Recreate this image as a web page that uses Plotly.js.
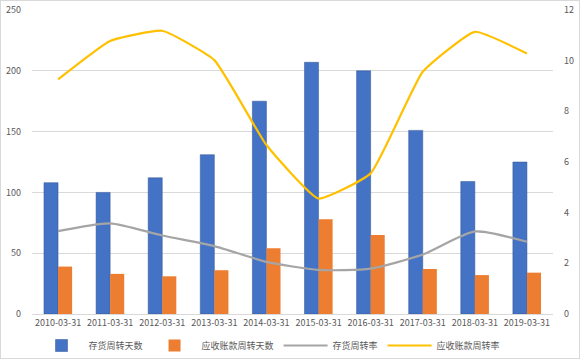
<!DOCTYPE html>
<html><head><meta charset="utf-8">
<script src="https://cdn.plot.ly/plotly-3.0.1.min.js"></script>
<style>html,body{margin:0;padding:0;background:#fff;}#chart{width:580px;height:359px;box-sizing:border-box;border:1px solid #d9d9d9;}</style>
</head><body><div id="chart"></div>
<script>
const categories = ["2010-03-31","2011-03-31","2012-03-31","2013-03-31","2014-03-31","2015-03-31","2016-03-31","2017-03-31","2018-03-31","2019-03-31"];
const inventoryDays = [108, 100, 112, 131, 175, 207, 200, 151, 109, 125];
const receivableDays = [39, 33, 31, 36, 54, 78, 65, 37, 32, 34];
const inventoryTurnover = [3.27, 3.58, 3.1, 2.68, 2.06, 1.74, 1.79, 2.35, 3.26, 2.85];
const receivableTurnover = [9.26, 10.78, 11.18, 10.02, 6.67, 4.56, 5.55, 9.56, 11.14, 10.28];
const names = ["存货周转天数", "应收账款周转天数", "存货周转率", "应收账款周转率"];

const font = {family: "'Noto Sans CJK SC', 'Noto Sans', sans-serif", size: 9, color: "#595959"};
const data = [
  {type: "bar", name: names[0], x: categories, y: inventoryDays, marker: {color: "#4472c4", line: {color: "#2f5597", width: 0.5}}},
  {type: "bar", name: names[1], x: categories, y: receivableDays, marker: {color: "#ed7d31"}},
  {type: "scatter", mode: "lines", name: names[2], x: categories, y: inventoryTurnover, yaxis: "y2", line: {color: "#a5a5a5", width: 2.2, shape: "spline", smoothing: 0.6}},
  {type: "scatter", mode: "lines", name: names[3], x: categories, y: receivableTurnover, yaxis: "y2", line: {color: "#ffc000", width: 2.2, shape: "spline", smoothing: 0.4}}
];
const layout = {
  width: 578, height: 357,
  margin: {l: 31, r: 26, t: 9, b: 44},
  paper_bgcolor: "#fff", plot_bgcolor: "#fff",
  font: font,
  barmode: "group", bargap: 0.46, bargroupgap: 0,
  showlegend: true,
  legend: {orientation: "h", xref: "container", yref: "container", x: 0.058, xanchor: "left", y: 0.035, yanchor: "middle", font: {family: font.family, size: 9, color: "#595959"}, itemwidth: 44, tracegroupgap: 0},
  xaxis: {type: "category", showgrid: false, zeroline: false, showline: false, ticks: "", tickfont: {size: 9, color: "#595959"}, ticklabelstandoff: 2},
  yaxis: {range: [0, 250], dtick: 50, showgrid: true, gridcolor: "#d9d9d9", gridwidth: 1, zeroline: true, zerolinecolor: "#d9d9d9", showline: false, ticks: "", tickfont: {size: 9, color: "#595959"}, ticklabelstandoff: 10},
  yaxis2: {overlaying: "y", side: "right", range: [0, 12], dtick: 2, showgrid: false, zeroline: false, showline: false, ticks: "", tickfont: {size: 9, color: "#595959"}, ticklabelstandoff: 10}
};
Plotly.newPlot("chart", data, layout, {displayModeBar: false, staticPlot: true});
</script></body></html>
